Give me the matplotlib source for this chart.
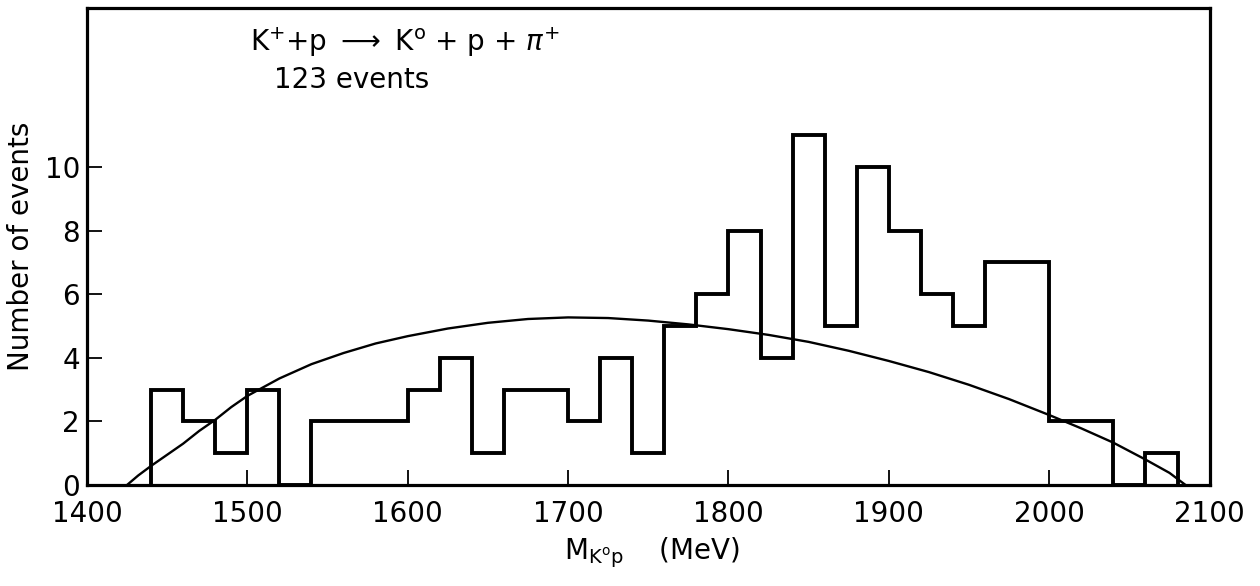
import matplotlib
matplotlib.use("Agg")
import matplotlib.pyplot as plt

# histogram of K0 p invariant mass, 20 MeV bins
bin_edges = [1440, 1460, 1480, 1500, 1520, 1540, 1560, 1580, 1600, 1620, 1640,
             1660, 1680, 1700, 1720, 1740, 1760, 1780, 1800, 1820, 1840, 1860,
             1880, 1900, 1920, 1940, 1960, 1980, 2000, 2020, 2040, 2060, 2080]
counts = [3, 2, 1, 3, 0, 2, 2, 2, 3, 4, 1, 3, 3, 2, 4, 1,
          5, 6, 8, 4, 11, 5, 10, 8, 6, 5, 7, 7, 2, 2, 0, 1]

# phase space curve
curve_mass = [1425, 1432, 1440, 1450, 1460, 1470, 1480, 1490, 1500, 1520, 1540,
              1560, 1580, 1600, 1625, 1650, 1675, 1700, 1725, 1750, 1775, 1800,
              1825, 1850, 1875, 1900, 1925, 1950, 1975, 2000, 2020, 2040, 2060,
              2075, 2085]
curve_events = [0.0, 0.3, 0.6, 0.95, 1.3, 1.7, 2.05, 2.45, 2.8, 3.35, 3.8,
                4.15, 4.45, 4.68, 4.92, 5.1, 5.22, 5.27, 5.25, 5.17, 5.05, 4.9,
                4.72, 4.5, 4.22, 3.9, 3.55, 3.15, 2.7, 2.2, 1.78, 1.33, 0.8,
                0.38, 0.0]

xticks = [1400, 1500, 1600, 1700, 1800, 1900, 2000, 2100]
yticks = [0, 2, 4, 6, 8, 10]

fig = plt.figure(figsize=(12.6, 5.86), dpi=100)
ax = fig.add_axes([0.069, 0.1724, 0.891, 0.8139])

ax.stairs(counts, bin_edges, color="black", linewidth=2.8)
ax.plot(curve_mass, curve_events, color="black", linewidth=1.7)

ax.set_xlim(1400, 2100)
ax.set_ylim(0, 15)
ax.set_xticks(xticks)
ax.set_yticks(yticks)
ax.tick_params(direction="in", length=11, width=1.3, labelsize=20,
               top=False, right=False)
ax.tick_params(axis="x", pad=11)
ax.tick_params(axis="y", pad=5)
for s in ax.spines.values():
    s.set_linewidth(2.3)

ax.set_ylabel("Number of events", fontsize=20)
ax.yaxis.set_label_coords(-0.046, 0.5)
ax.set_xlabel(r"M$_{\mathregular{K^o p}}$    (MeV)", fontsize=20)
ax.xaxis.set_label_coords(0.503, -0.105)

ax.text(0.283, 0.929, r"K$^{+}$+p $\longrightarrow$ K$^{\mathregular{o}}$ + p + $\pi^{+}$",
        transform=ax.transAxes, ha="center", va="center", fontsize=20)
ax.text(0.236, 0.849, "123 events", transform=ax.transAxes,
        ha="center", va="center", fontsize=20)

fig.savefig("out.png", dpi=100)
